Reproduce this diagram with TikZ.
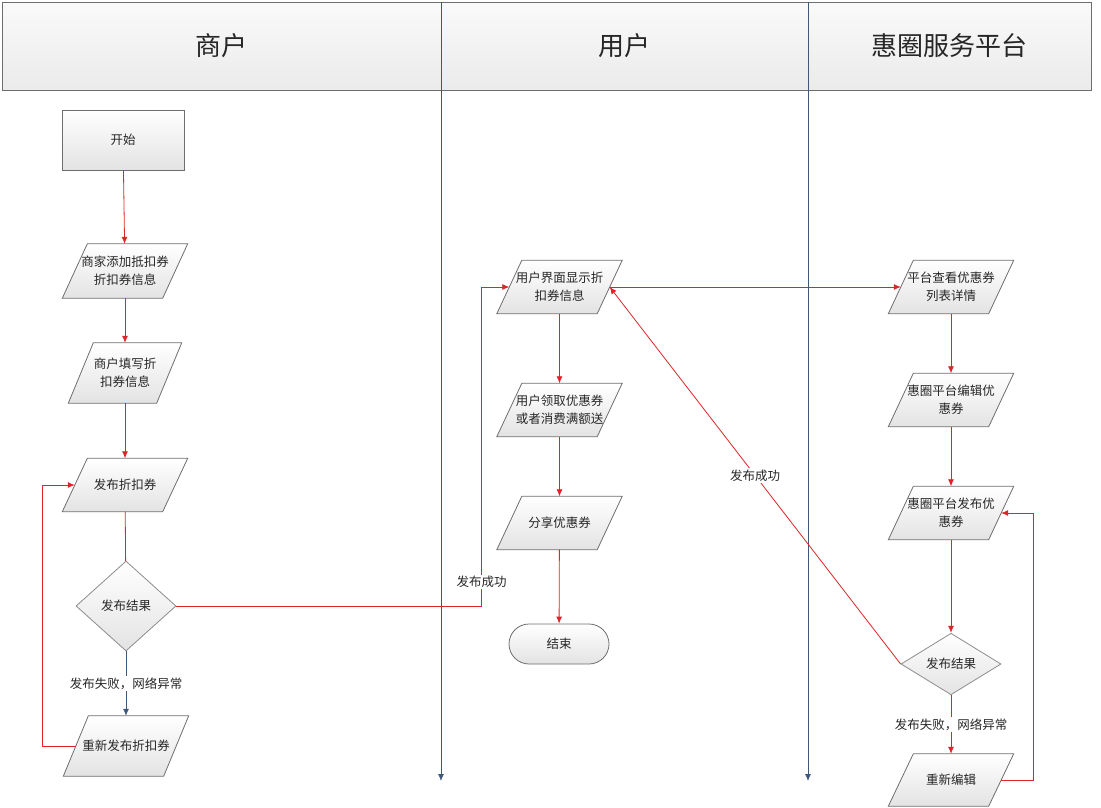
\documentclass[tikz,border=0pt]{standalone}
\usepackage{fontspec}
\setmainfont{Noto Sans CJK SC}
\usetikzlibrary{arrows.meta,shapes.geometric,backgrounds,calc}
\definecolor{flowred}{RGB}{222,36,40}
\definecolor{laneblue}{RGB}{62,88,124}
\definecolor{edgegray}{RGB}{110,110,110}
\definecolor{txt}{RGB}{38,38,38}

\begin{document}
\begin{tikzpicture}[x=1pt,y=-1pt,
  lbl/.style={font=\fontsize{12.5}{18}\selectfont, text=txt, align=center},
  para/.style={lbl, rectangle, minimum width=100, minimum height=53, inner sep=0},
  shadefill/.style={top color=white, bottom color=black!11},
  startbox/.style={lbl, rectangle, draw=edgegray, line width=0.8pt, shadefill,
    minimum width=122, minimum height=60},
  decision/.style={lbl, diamond, draw=black!45, line width=0.8pt, shadefill,
    minimum width=100, minimum height=90, inner sep=0},
  endbox/.style={lbl, rectangle, rounded corners=20, draw=edgegray, line width=0.8pt,
    shadefill, minimum width=100, minimum height=40},
  headcell/.style={draw=edgegray, line width=0.8pt, top color=black!2, bottom color=black!8},
  headtext/.style={font=\fontsize{26}{30}\selectfont, text=txt},
  flow/.style={flowred, line width=0.8pt, -{Latex[length=7pt,width=6pt]}},
  plain/.style={flowred, line width=0.8pt},
  bluearrow/.style={laneblue, line width=0.8pt, -{Latex[length=7pt,width=6pt]}},
  edgelbl/.style={lbl, fill=white, inner sep=1.5pt}
]
\useasboundingbox (0,0) rectangle (1101,807);

% swimlane header
\path[headcell] (2,2) rectangle (441,90);
\path[headcell] (441,2) rectangle (808,90);
\path[headcell] (808,2) rectangle (1091,90);
\node[headtext] (h1) at (221.5,46) {商户};
\node[headtext] (h2) at (624.5,46) {用户};
\node[headtext] (h3) at (949.5,46) {惠圈服务平台};

% lane separators
\coordinate (l1top) at (441,2);
\coordinate (l1bot) at (441,781);
\coordinate (l2top) at (808,2);
\coordinate (l2bot) at (808,781);
\draw[bluearrow] (l1top) -- (l1bot);
\draw[bluearrow] (l2top) -- (l2bot);

% merchant lane
\node[startbox] (start) at (123,140) {开始};
\node[para, minimum height=54] (n1) at (125,271) {商家添加抵扣券\\折扣券信息};
\node[para, minimum width=88, minimum height=60] (n2) at (125,373) {商户填写折\\扣券信息};
\node[para] (n3) at (125,485) {发布折扣券};
\node[decision] (d1) at (126,606) {发布结果};
\node[para, minimum height=60] (n4) at (126,746) {重新发布折扣券};

% user lane
\node[para] (u1) at (559.5,287) {用户界面显示折\\扣券信息};
\node[para] (u2) at (559.5,410) {用户领取优惠券\\或者消费满额送};
\node[para] (u3) at (559.5,523) {分享优惠券};
\node[endbox] (end) at (559,644) {结束};

% platform lane
\node[para] (p1) at (951,287) {平台查看优惠券\\列表详情};
\node[para] (p2) at (951,400) {惠圈平台编辑优\\惠券};
\node[para] (p3) at (951,513) {惠圈平台发布优\\惠券};
\node[decision, minimum height=59] (d2) at (951,664) {发布结果};
\node[para, minimum height=52] (p4) at (951,780) {重新编辑};

% parallelogram outlines behind the data nodes
\begin{scope}[on background layer]
  \foreach \n in {n1,n2,n3,n4,u1,u2,u3,p1,p2,p3,p4}{
    \path[draw=edgegray, line width=0.8pt, shadefill]
      ($(\n.north west)+(12.5,0)$) -- ($(\n.north east)+(12.5,0)$) --
      ($(\n.south east)+(-12.5,0)$) -- ($(\n.south west)+(-12.5,0)$) -- cycle;
  }
\end{scope}

% merchant flow
\draw[flow] (start) -- (n1);
\draw[flow] (n1) -- (n2);
\draw[flow] (n2) -- (n3);
\draw[plain] (n3) -- (d1);
\draw[bluearrow] (d1) -- node[edgelbl] {发布失败，网络异常} (n4);
\draw[flow] (n4.west) -- ++(-33,0) |- (n3.west);
\draw[flow] (d1.east) -| ($(u1.west)+(-28,0)$) -- (u1.west);
\node[edgelbl] (ok1) at (481.5,582) {发布成功};

% user flow
\draw[flow] (u1) -- (u2);
\draw[flow] (u2) -- (u3);
\draw[flow] (u3) -- (end);
\draw[flow] (u1.east) -- (p1.west);

% platform flow
\draw[flow] (p1) -- (p2);
\draw[flow] (p2) -- (p3);
\draw[flow] (p3) -- (d2);
\draw[flow] (d2) -- node[edgelbl] {发布失败，网络异常} (p4);
\draw[flow] (p4.east) -- ++(32,0) |- (p3.east);
\draw[flow] (d2.west) -- node[edgelbl, pos=0.5] {发布成功} (u1.east);
\end{tikzpicture}
\end{document}
